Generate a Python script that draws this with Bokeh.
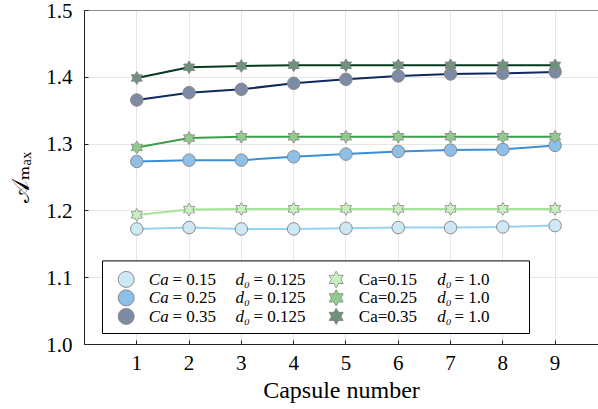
from bokeh.plotting import figure
from bokeh.models import Range1d, FixedTicker, Span, ColumnDataSource
from bokeh.core.properties import value
from bokeh.embed import file_html
from bokeh.resources import INLINE

# ---- data -------------------------------------------------------------
capsule = [1, 2, 3, 4, 5, 6, 7, 8, 9]

# d0 = 0.125 (circles)
ca015_d0125 = [1.173, 1.175, 1.173, 1.173, 1.174, 1.175, 1.175, 1.176, 1.178]
ca025_d0125 = [1.274, 1.276, 1.276, 1.281, 1.285, 1.289, 1.291, 1.292, 1.298]
ca035_d0125 = [1.366, 1.377, 1.382, 1.391, 1.397, 1.402, 1.405, 1.406, 1.408]

# d0 = 1.0 (stars)
ca015_d1 = [1.194, 1.202, 1.203, 1.203, 1.203, 1.203, 1.203, 1.203, 1.203]
ca025_d1 = [1.295, 1.309, 1.311, 1.311, 1.311, 1.311, 1.311, 1.311, 1.311]
ca035_d1 = [1.399, 1.415, 1.417, 1.418, 1.418, 1.418, 1.418, 1.418, 1.418]

ca_labels = ["0.15", "0.25", "0.35"]
d0_labels = ["0.125", "1.0"]

x_ticks = [1, 2, 3, 4, 5, 6, 7, 8, 9]
y_ticks = [1.0, 1.1, 1.2, 1.3, 1.4, 1.5]
y_tick_labels = ["1.0", "1.1", "1.2", "1.3", "1.4", "1.5"]

# ---- styles -----------------------------------------------------------
circle_lines = ["#95d4ef", "#3a8fd9", "#0d2a60"]
circle_fills = ["#cde9f5", "#8ebfe6", "#7d8aa6"]
star_lines = ["#a3e596", "#3d9e47", "#053a1f"]
star_fills = ["#c9efc0", "#91c98f", "#70917c"]
edge = "#8a8a8a"
serif = "'Liberation Serif', 'DejaVu Serif', serif"

FRAME_W, FRAME_H = 514, 334
X_UNIT = 52.29

p = figure(width=598, height=409,
           x_range=Range1d(0, FRAME_W / X_UNIT), y_range=Range1d(1.0, 1.5),
           output_backend="svg", toolbar_location=None,
           min_border_left=84, min_border_right=0,
           min_border_top=10, min_border_bottom=65)
p.outline_line_color = None
p.background_fill_color = "white"
p.border_fill_color = "white"

# pixel-space ranges used by the legend panel
p.extra_x_ranges = {"px": Range1d(0, FRAME_W)}
p.extra_y_ranges = {"px": Range1d(0, FRAME_H)}

# axes
for ax in (p.xaxis[0], p.yaxis[0]):
    ax.axis_line_color = "#222222"
    ax.axis_line_width = 1
    ax.major_tick_in = 4
    ax.major_tick_out = 0
    ax.minor_tick_line_color = None
    ax.major_tick_line_color = "#222222"
    ax.major_label_text_font = serif
    ax.major_label_text_font_size = "21px"
    ax.major_label_text_color = "black"
    ax.axis_label_text_font = serif
    ax.axis_label_text_font_style = "normal"
    ax.axis_label_text_color = "black"

p.xaxis.ticker = FixedTicker(ticks=x_ticks)
p.yaxis.ticker = FixedTicker(ticks=y_ticks)
p.yaxis.major_label_overrides = dict(zip(y_ticks, y_tick_labels))
p.xaxis.major_label_standoff = 11
p.yaxis.major_label_standoff = 12
p.xaxis.axis_label = "Capsule number"
p.xaxis.axis_label_text_font_size = "24px"
p.xaxis.axis_label_standoff = 4
p.yaxis.axis_label = "𝒜ₘₐₓ"
p.yaxis.axis_label_text_font_size = "24px"
p.yaxis.axis_label_standoff = 9

p.xgrid.ticker = FixedTicker(ticks=x_ticks)
p.ygrid.ticker = FixedTicker(ticks=y_ticks)
p.grid.grid_line_color = "#e6e6e6"
p.grid.grid_line_width = 1

# top frame edge
p.add_layout(Span(location=1.5, dimension="width", line_color="#222222", line_width=1))


def star(x, y, size, fill, line, **kw):
    # six-pointed star: two outlined triangles, then their fills on top
    for m in ("triangle", "inverted_triangle"):
        p.scatter(x, y, marker=m, size=size, fill_color=fill,
                  line_color=line, line_width=1, **kw)
    for m in ("triangle", "inverted_triangle"):
        p.scatter(x, y, marker=m, size=size - 1.2, fill_color=fill,
                  line_color=None, **kw)


circle_series = [ca015_d0125, ca025_d0125, ca035_d0125]
star_series = [ca015_d1, ca025_d1, ca035_d1]

for ys, lc, fc in zip(circle_series, circle_lines, circle_fills):
    p.line(capsule, ys, line_color=lc, line_width=2)
    p.scatter(capsule, ys, marker="circle", size=12.5, fill_color=fc,
              line_color=edge, line_width=1)

for ys, lc, fc in zip(star_series, star_lines, star_fills):
    p.line(capsule, ys, line_color=lc, line_width=2)
    star(capsule, ys, 11, fc, edge)

# ---- legend panel (pixel coordinates inside the frame) ----------------
leg_left, leg_right, leg_bottom, leg_top = 18, 445, 11, 83.6
pitch = 18.5
rows_y = [leg_top - pitch * (i + 1) for i in range(3)]

p.quad(left=leg_left, right=leg_right, bottom=leg_bottom, top=leg_top,
       fill_color="white", line_color="black", line_width=1,
       x_range_name="px", y_range_name="px")

p.scatter([41.7] * 3, rows_y, marker="circle", size=16,
          fill_color=circle_fills, line_color=edge, line_width=1,
          x_range_name="px", y_range_name="px")
star([251.7] * 3, rows_y, 14, star_fills, edge,
     x_range_name="px", y_range_name="px")

leg = ColumnDataSource(dict(
    y=rows_y,
    ca=["Ca"] * 3,
    ca_val=["= " + c for c in ca_labels],
    d=["d₀"] * 3,
    d_small=["= " + d0_labels[0]] * 3,
    ca2=["Ca=" + c for c in ca_labels],
    d_big=["= " + d0_labels[1]] * 3,
))

pieces = [
    ("ca", 64.3, "italic"),
    ("ca_val", 88.0, "normal"),
    ("d", 151.0, "italic"),
    ("d_small", 169.0, "normal"),
    ("ca2", 274.3, "normal"),
    ("d", 352.7, "italic"),
    ("d_big", 370.0, "normal"),
]
for field, xpos, style in pieces:
    p.text(x=xpos, y="y", text=field, source=leg,
           text_font=value(serif), text_font_size="17px",
           text_font_style=style, text_baseline="middle", text_align="left",
           text_color="black", x_range_name="px", y_range_name="px")

open("out.html", "w").write(file_html(p, INLINE))
